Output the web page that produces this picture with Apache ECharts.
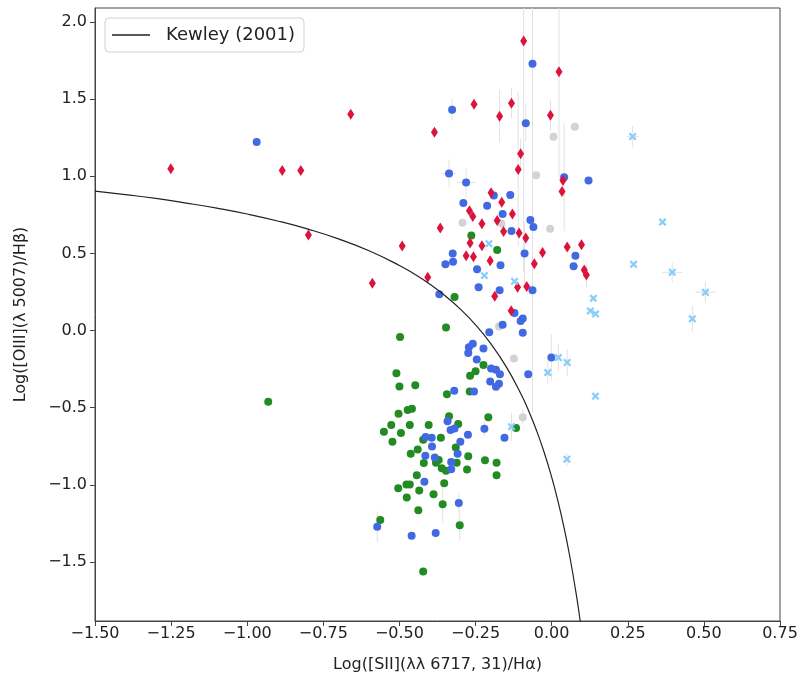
<!DOCTYPE html>
<html>
	<head>
		<meta charset="utf-8" />
		<title>BPT [SII] diagram</title>
		<script src="https://cdn.jsdelivr.net/npm/echarts@6/dist/echarts.min.js"></script>
	</head>
	<body style="margin:0;">
		<div id="main" style="width: 804px;height:678px;"></div>
		<script type="text/javascript">
			// red diamonds
			var redPts = [
				[-0.660, 1.402], [-1.251, 1.048], [-0.885, 1.037], [-0.824, 1.037], [-0.799, 0.619], [-0.589, 0.306],
				[-0.255, 1.466], [-0.385, 1.285],
				[-0.092, 1.876], [0.024, 1.677], [-0.132, 1.473], [-0.171, 1.389], [-0.004, 1.395], [-0.102, 1.145],
				[-0.110, 1.044], [0.037, 0.972], [0.034, 0.901], [-0.199, 0.893], [-0.164, 0.832],
				[-0.270, 0.776], [-0.259, 0.739], [-0.366, 0.664], [-0.268, 0.567], [-0.491, 0.548], [-0.281, 0.485],
				[-0.257, 0.479], [-0.407, 0.345],
				[-0.129, 0.755], [-0.229, 0.692], [-0.179, 0.713], [-0.158, 0.642], [-0.107, 0.632], [-0.085, 0.600],
				[-0.229, 0.550], [-0.030, 0.505], [0.051, 0.541], [0.098, 0.556], [-0.202, 0.453], [-0.057, 0.433],
				[0.107, 0.392], [0.114, 0.360], [-0.112, 0.280], [-0.082, 0.285], [-0.187, 0.222], [-0.133, 0.129]
			];
			// blue circles
			var bluePts = [
				[-0.969, 1.222], [-0.327, 1.430], [-0.337, 1.018], [-0.281, 0.959], [-0.290, 0.826],
				[-0.063, 1.729], [-0.085, 1.343], [0.041, 0.994], [0.121, 0.972], [-0.190, 0.875], [-0.136, 0.878], [-0.212, 0.809],
				[-0.325, 0.500], [-0.324, 0.446], [-0.349, 0.429], [-0.245, 0.397], [-0.240, 0.280], [-0.369, 0.235],
				[-0.161, 0.755], [-0.070, 0.716], [-0.060, 0.671], [-0.132, 0.645], [-0.089, 0.500], [0.078, 0.485],
				[-0.168, 0.423], [0.072, 0.416], [-0.171, 0.261], [-0.063, 0.261], [-0.122, 0.114], [-0.095, 0.078],
				[-0.102, 0.062], [-0.161, 0.037], [-0.205, -0.011], [-0.095, -0.015],
				[-0.259, -0.086], [-0.272, -0.108], [-0.274, -0.145], [-0.246, -0.188], [-0.255, -0.395], [-0.320, -0.390],
				[-0.342, -0.587], [-0.332, -0.645], [-0.319, -0.634], [-0.275, -0.675], [-0.414, -0.690], [-0.394, -0.694],
				[-0.300, -0.720], [-0.393, -0.752], [-0.309, -0.798], [-0.415, -0.811], [-0.384, -0.823], [-0.330, -0.852],
				[-0.224, -0.116], [-0.001, -0.175], [-0.199, -0.246], [-0.183, -0.254], [-0.170, -0.283], [-0.077, -0.283],
				[-0.202, -0.330], [-0.173, -0.345], [-0.183, -0.364], [-0.221, -0.636], [-0.155, -0.694],
				[-0.330, -0.899], [-0.418, -0.979], [-0.305, -1.117], [-0.573, -1.272], [-0.460, -1.330], [-0.381, -1.311]
			];
			// green circles
			var greenPts = [
				[-0.264, 0.616], [-0.319, 0.218], [-0.347, 0.019], [-0.498, -0.041], [-0.179, 0.522],
				[-0.510, -0.276], [-0.250, -0.263], [-0.268, -0.293], [-0.500, -0.362], [-0.448, -0.354], [-0.269, -0.395],
				[-0.344, -0.412], [-0.503, -0.539], [-0.473, -0.515], [-0.459, -0.507], [-0.337, -0.556], [-0.307, -0.606],
				[-0.527, -0.612], [-0.466, -0.612], [-0.404, -0.612], [-0.551, -0.655], [-0.495, -0.664], [-0.523, -0.720],
				[-0.422, -0.707], [-0.364, -0.694], [-0.315, -0.757], [-0.440, -0.770], [-0.463, -0.798], [-0.274, -0.815],
				[-0.420, -0.858], [-0.371, -0.839], [-0.380, -0.856],
				[-0.361, -0.893], [-0.347, -0.908], [-0.312, -0.856], [-0.278, -0.901], [-0.219, -0.841], [-0.181, -0.856],
				[-0.181, -0.938], [-0.443, -0.938], [-0.504, -1.022], [-0.477, -0.998], [-0.466, -0.998], [-0.435, -1.037],
				[-0.353, -0.990], [-0.476, -1.082], [-0.388, -1.061], [-0.358, -1.125], [-0.438, -1.164], [-0.563, -1.227],
				[-0.302, -1.261], [-0.422, -1.561],
				[-0.224, -0.224], [-0.208, -0.561], [-0.117, -0.632], [-0.931, -0.462]
			];
			// light grey circles
			var greyPts = [
				[0.076, 1.320], [0.006, 1.255], [-0.051, 1.007], [-0.293, 0.699], [-0.165, 0.694], [-0.005, 0.660],
				[-0.173, 0.026], [-0.124, -0.181], [-0.095, -0.561]
			];
			// light blue crosses
			var skyPts = [
				[0.266, 1.257], [0.364, 0.703], [0.269, 0.429], [0.396, 0.377], [0.505, 0.248], [0.462, 0.076],
				[-0.206, 0.563], [-0.221, 0.356], [-0.122, 0.319], [0.137, 0.209], [0.127, 0.127], [0.144, 0.108],
				[0.022, -0.175], [0.051, -0.207], [-0.013, -0.272], [0.144, -0.425], [-0.132, -0.623], [0.050, -0.834]
			];
			// error bars: x, y, xerr, yerr
			var errBars = [
				[-0.063, 1.729, 0, 2.26], [-0.092, 1.876, 0, 1.5], [0.024, 1.677, 0, 0.7],
				[-0.171, 1.389, 0, 0.17], [-0.132, 1.473, 0, 0.1], [-0.004, 1.395, 0, 0.1], [-0.085, 1.343, 0, 0.12],
				[-0.102, 1.145, 0, 0.1], [-0.110, 1.044, 0, 0.5],
				[-0.337, 1.018, 0.025, 0.09], [-0.281, 0.959, 0.03, 0.09], [-0.327, 1.430, 0, 0.07],
				[0.041, 0.994, 0, 0.35], [-0.089, 0.5, 0, 0.2], [0.114, 0.36, 0, 0.08],
				[0.266, 1.257, 0.02, 0.07], [0.396, 0.377, 0.033, 0.065], [0.505, 0.248, 0.033, 0.07], [0.462, 0.076, 0, 0.086],
				[-0.001, -0.175, 0, 0.15], [0.022, -0.175, 0, 0.09], [0.051, -0.207, 0, 0.085], [-0.013, -0.272, 0, 0.07],
				[-0.095, -0.561, 0, 0.05], [-0.132, -0.623, 0, 0.09], [-0.221, -0.636, 0, 0.05], [0.05, -0.834, 0, 0.04],
				[-0.302, -1.261, 0, 0.1], [-0.305, -1.117, 0, 0.065], [-0.358, -1.125, 0, 0.12], [-0.573, -1.272, 0, 0.1]
			];
			// Kewley (2001) curve
			var kewley = [
				[-1.5, 0.904], [-1.4, 0.881], [-1.3, 0.856], [-1.2, 0.826], [-1.1, 0.793], [-1.0, 0.755],
				[-0.9, 0.710], [-0.8, 0.657], [-0.7, 0.594], [-0.6, 0.517], [-0.5, 0.422], [-0.45, 0.365],
				[-0.4, 0.300], [-0.35, 0.225], [-0.3, 0.139], [-0.25, 0.037], [-0.2, -0.085], [-0.15, -0.232],
				[-0.1, -0.414], [-0.075, -0.523], [-0.05, -0.646], [-0.025, -0.787], [0.0, -0.950], [0.02, -1.100],
				[0.04, -1.271], [0.06, -1.469], [0.08, -1.700], [0.09, -1.830], [0.1, -1.973]
			];
			var yTicks = [-1.5, -1.0, -0.5, 0.0, 0.5, 1.0, 1.5, 2.0];

			var FONT = 'DejaVu Sans';
			function minus(v, d) {
				return (v < 0 ? '\u2212' : '') + Math.abs(v).toFixed(d);
			}
			var crossPath = 'path://M2,0 L5,3 L8,0 L10,2 L7,5 L10,8 L8,10 L5,7 L2,10 L0,8 L3,5 L0,2 Z';

			var myChart = echarts.init(document.getElementById('main'));
			var option = {
				backgroundColor: '#fff',
				animation: false,
				textStyle: { fontFamily: FONT },
				grid: {
					left: 95, right: 24, top: 8, bottom: 56,
					show: true, borderColor: '#444', borderWidth: 1
				},
				legend: {
					data: [{ name: 'Kewley (2001)', icon: 'rect' }],
					left: 105, top: 18,
					padding: [8, 9, 8, 7],
					itemWidth: 38, itemHeight: 1.3,
					borderColor: '#d0d0d0', borderWidth: 1, borderRadius: 4,
					textStyle: { fontSize: 18, color: '#222', fontFamily: FONT, padding: [0, 0, 0, 11], lineHeight: 16 }
				},
				xAxis: {
					type: 'value', min: -1.5, max: 0.75, interval: 0.25,
					name: 'Log([SII](\u03bb\u03bb 6717, 31)/H\u03b1)',
					nameLocation: 'middle', nameGap: 36,
					nameTextStyle: { fontSize: 16, color: '#222', fontFamily: FONT },
					axisLine: { show: true, onZero: false, lineStyle: { color: '#444' } },
					axisTick: { show: true, length: 5, lineStyle: { color: '#444' } },
					axisLabel: { fontSize: 16, color: '#222', margin: 5, formatter: function (v) { return minus(v, 2); } },
					splitLine: { show: false }
				},
				yAxis: {
					type: 'value', min: -1.882, max: 2.09,
					name: 'Log([OIII](\u03bb 5007)/H\u03b2)',
					nameLocation: 'middle', nameGap: 66,
					nameTextStyle: { fontSize: 16, color: '#222', fontFamily: FONT },
					axisLine: { show: true, onZero: false, lineStyle: { color: '#444' } },
					axisTick: { show: true, length: 5, customValues: yTicks, lineStyle: { color: '#444' } },
					axisLabel: { fontSize: 16, color: '#222', margin: 8, customValues: yTicks, formatter: function (v) { return minus(v, 1); } },
					splitLine: { show: false }
				},
				series: [
					{
						name: 'errors', type: 'custom', clip: true, z: 1,
						data: errBars,
						encode: { x: 0, y: 1 },
						renderItem: function (params, api) {
							var x = api.value(0), y = api.value(1), xe = api.value(2), ye = api.value(3);
							var kids = [];
							var st = { stroke: '#e2e2e2', lineWidth: 1 };
							if (ye > 0) {
								var a = api.coord([x, y + ye]), b = api.coord([x, y - ye]);
								kids.push({ type: 'line', shape: { x1: a[0], y1: a[1], x2: b[0], y2: b[1] }, style: st });
							}
							if (xe > 0) {
								var c = api.coord([x - xe, y]), d = api.coord([x + xe, y]);
								kids.push({ type: 'line', shape: { x1: c[0], y1: c[1], x2: d[0], y2: d[1] }, style: st });
							}
							return { type: 'group', children: kids };
						}
					},
					{
						name: 'Kewley (2001)', type: 'line', data: kewley, smooth: true,
						symbol: 'none', clip: true, z: 3,
						lineStyle: { color: '#222', width: 1.2 },
						itemStyle: { color: '#222' }
					},
					{ name: 'grey', type: 'scatter', data: greyPts, symbol: 'circle', symbolSize: 8, z: 2, itemStyle: { color: '#d3d3d3', opacity: 1 } },
					{ name: 'green', type: 'scatter', data: greenPts, symbol: 'circle', symbolSize: 8, z: 2, itemStyle: { color: '#228b22', opacity: 1 } },
					{ name: 'blue', type: 'scatter', data: bluePts, symbol: 'circle', symbolSize: 8, z: 2, itemStyle: { color: '#4169e1', opacity: 1 } },
					{ name: 'red', type: 'scatter', data: redPts, symbol: 'diamond', symbolSize: [7, 11], z: 2, itemStyle: { color: '#dc143c', opacity: 1 } },
					{ name: 'sky', type: 'scatter', data: skyPts, symbol: crossPath, symbolSize: 8, z: 2, itemStyle: { color: '#87cefa', opacity: 1 } }
				]
			};
			myChart.setOption(option);
		</script>
	</body>
</html>
